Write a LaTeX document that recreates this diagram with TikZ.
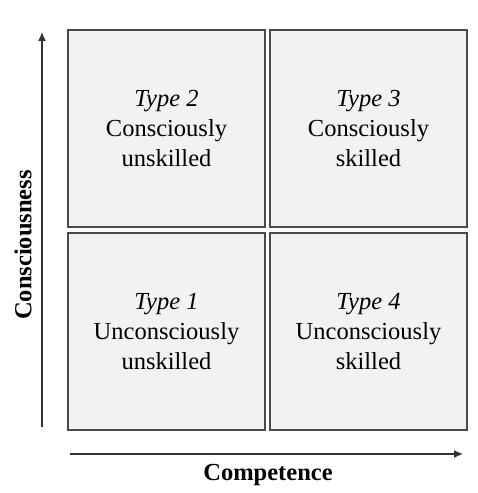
\documentclass[tikz,border=0pt]{standalone}
\usepackage{fontspec}
\setmainfont{Liberation Serif}
\usepackage{xcolor}
\usepackage{tikz}
\usetikzlibrary{arrows.meta}
\definecolor{cellfill}{HTML}{F2F2F2}
\definecolor{celldraw}{HTML}{4A4A4A}
\tikzset{
	cell/.style={draw=celldraw, line width=1.4pt, fill=cellfill,
		minimum width=197pt, minimum height=197pt, align=center,
		font=\fontsize{24.5}{30}\selectfont},
	axis/.style={-{Latex[length=9pt,width=8pt]}, line width=1.3pt, draw=black!80},
	axislabel/.style={font=\fontsize{24.5}{30}\selectfont\bfseries}
}

\begin{document}
\begin{tikzpicture}[x=1pt,y=1pt]
			\useasboundingbox (0,0) rectangle (477,493);
			% Vẽ bốn ô
			\node[cell] (type2) at (166.5,364.5) {\textit{Type 2}\\Consciously\\unskilled};
			\node[cell] (type3) at (368.5,364.5) {\textit{Type 3}\\Consciously\\skilled};
			\node[cell] (type1) at (166.5,161.5) {\textit{Type 1}\\Unconsciously\\unskilled};
			\node[cell] (type4) at (368.5,161.5) {\textit{Type 4}\\Unconsciously\\skilled};
			% Vẽ trục
			\coordinate (yfrom) at (42,66);
			\coordinate (yto) at (42,461);
			\coordinate (xfrom) at (70,39);
			\coordinate (xto) at (463,39);
			\draw[axis] (yfrom) -- (yto);
			\draw[axis] (xfrom) -- (xto);
			\node[axislabel] (competence) at (268,18) {Competence};
			\node[axislabel, rotate=90] (consciousness) at (23,248) {Consciousness};
		\end{tikzpicture}
\end{document}
